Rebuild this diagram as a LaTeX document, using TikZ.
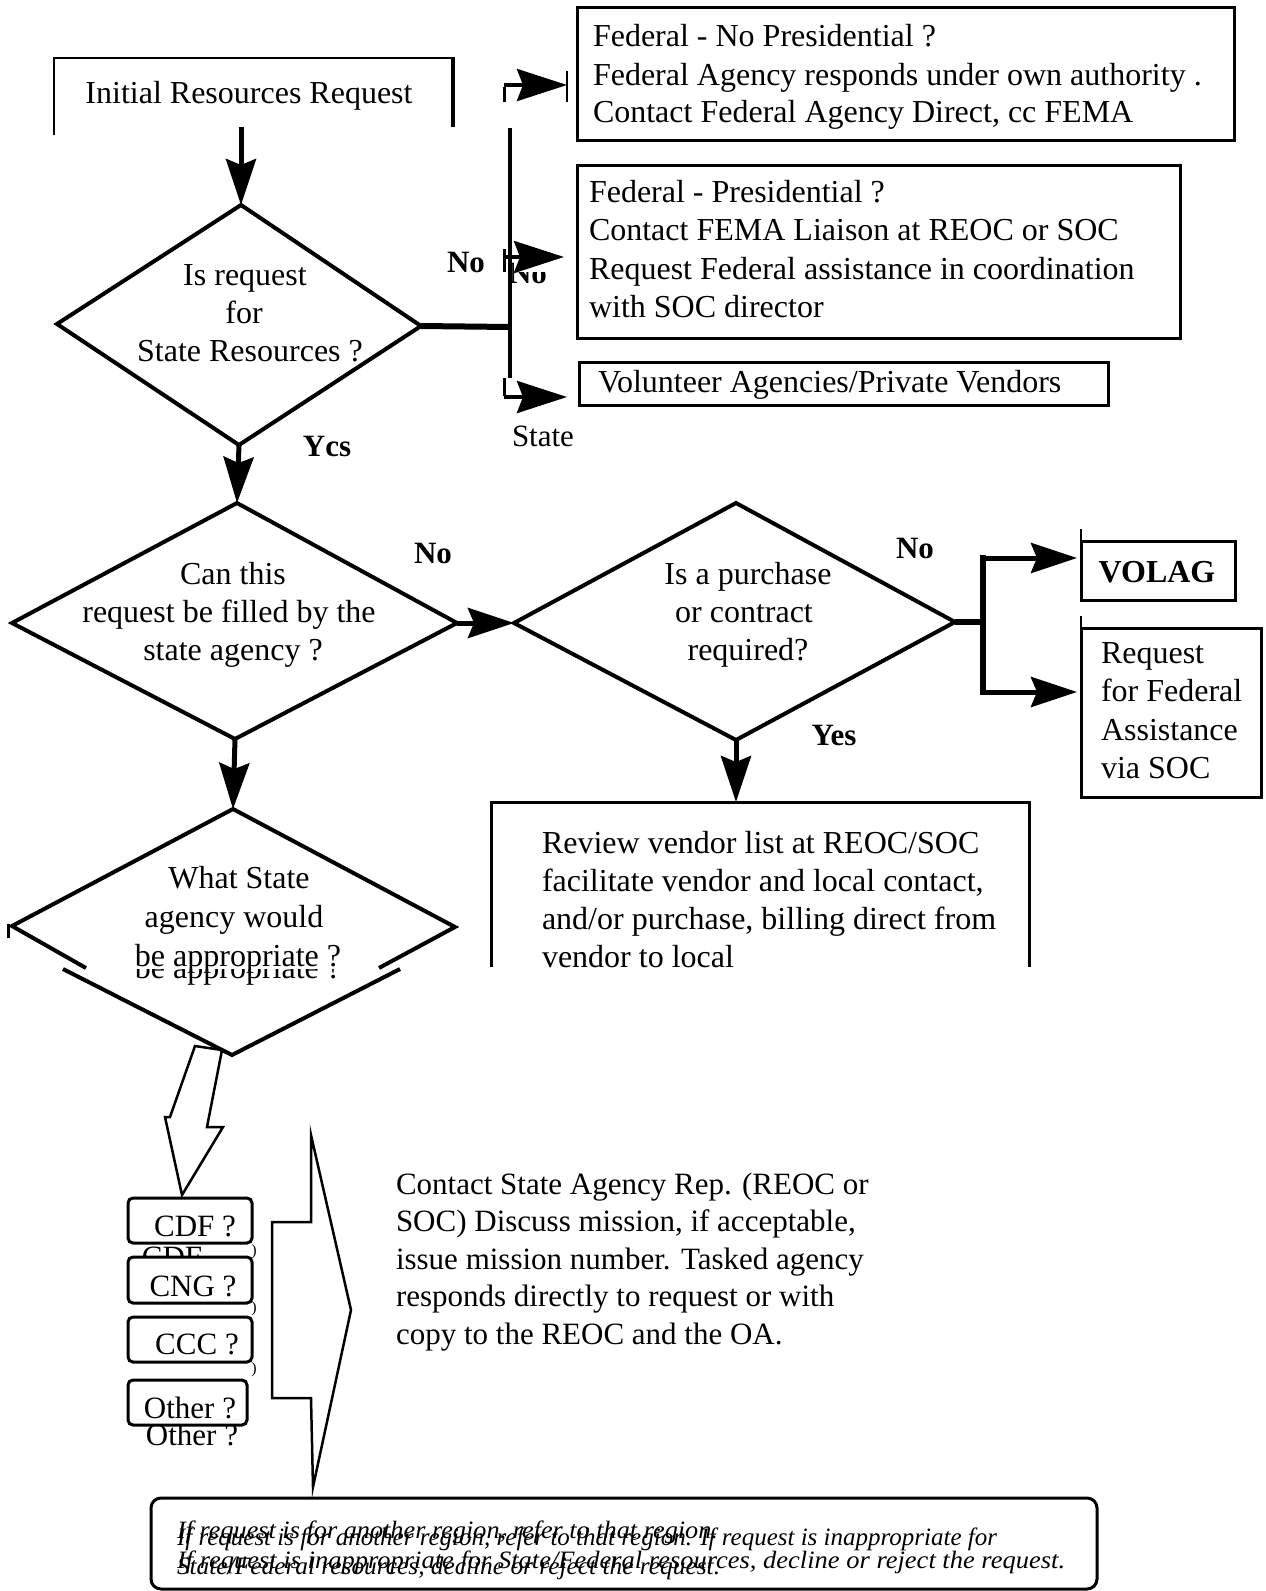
\documentclass[tikz,border=0pt]{standalone}
\usepackage{fontspec}
\setmainfont{Liberation Serif}
\usetikzlibrary{arrows.meta}
\newcommand\fsz[1]{\fontsize{#1}{#1}\selectfont}
\begin{document}
\begin{tikzpicture}[x=1pt,y=-1pt,
  every node/.style={inner sep=0pt, outer sep=0pt},
  txt/.style={font=\fsz{32}, anchor=base west},
  ctxt/.style={font=\fsz{32}, anchor=base},
  stxt/.style={font=\fsz{31}, anchor=base west},
  btxt/.style={font=\fsz{31}, anchor=base},
  lbl/.style={font=\fsz{31}\bfseries, anchor=base},
  itx/.style={font=\fsz{25}\itshape, anchor=base west},
  boxln/.style={draw, line width=3pt, anchor=north west},
  dialn/.style={line width=4pt, line join=miter},
  thickln/.style={line width=6pt},
  thinln/.style={line width=3pt},
  arr/.style={line width=5pt, -{Stealth[length=46pt,width=30pt,inset=6pt]}},
  sarr/.style={line width=4pt, -{Stealth[length=50pt,width=32pt,inset=6pt]}},
  qbox/.style={draw, line width=3pt, rounded corners=5pt, fill=white, anchor=north west},
]
\useasboundingbox[fill=white] (0,0) rectangle (1266,1591);

% ---------- coordinates of diamonds ----------
\coordinate (d1t) at (241,205); \coordinate (d1l) at (57,324);
\coordinate (d1r) at (421,326); \coordinate (d1b) at (239,445);
\coordinate (d2t) at (237,503); \coordinate (d2l) at (12,623);
\coordinate (d2r) at (457,623); \coordinate (d2b) at (235,739);
\coordinate (d3t) at (736,503); \coordinate (d3l) at (514,623);
\coordinate (d3r) at (955,622); \coordinate (d3b) at (736,740);
\coordinate (d4t) at (233,809); \coordinate (d4l) at (12,926);
\coordinate (d4r) at (455,927); \coordinate (d4b) at (232,1055);
\coordinate (d4ul) at (86,968); \coordinate (d4ur) at (379,968);
\coordinate (d4ll) at (63,969); \coordinate (d4lr) at (400,969);

% ---------- Initial box (open at bottom) ----------
\draw[line width=2pt] (54,135) -- (54,58) -- (453,58);
\draw[line width=4pt] (453,57) -- (453,127);
\node[ctxt] (init) at (249,103) {Initial Resources Request};
\coordinate (initb) at (241,127);
\draw[arr] (initb) -- (d1t);

% ---------- Diamond 1 ----------
\draw[dialn] (d1t) -- (d1r) -- (d1b) -- (d1l) -- cycle;
\node[ctxt] (d1a) at (245,285) {Is request};
\node[ctxt] (d1bb) at (244,323) {for};
\node[ctxt] (d1c) at (250,361) {State Resources ?};

% hidden No (partly masked)
\node[lbl] (nohid) at (528,283) {No};
\fill[white] (514,240) rectangle (550,272);

% trunk
\coordinate (trm) at (510,327);
\coordinate (trtop) at (510,128);
\coordinate (trbot) at (510,378);
\draw[thickln] (d1r) -- (trm);
\draw[line width=4pt] (trtop) -- (trbot);

% arrow 1
\coordinate (a1c) at (504,102); \coordinate (a1s) at (504,85); \coordinate (a1e) at (567,85);
\draw[thinln] (a1c) -- ([yshift=-1.5pt]a1s);
\draw[sarr] (a1s) -- (a1e);
\coordinate (tk1) at (567,71); \coordinate (tk2) at (567,102);
\draw[line width=2pt] (tk1) -- (tk2);
% arrow 2
\coordinate (a2c) at (504,249); \coordinate (a2d) at (504,272);
\coordinate (a2s) at (504,257); \coordinate (a2e) at (564,257);
\draw[thinln] (a2c) -- (a2d);
\draw[sarr] (a2s) -- (a2e);
% arrow 3
\coordinate (a3c) at (504,378); \coordinate (a3s) at (504,397); \coordinate (a3e) at (567,397);
\draw[thinln] (a3c) -- ([yshift=1.5pt]a3s);
\draw[sarr] (a3s) -- (a3e);

\node[lbl] (no1) at (466,272) {No};
\node[btxt] (state) at (543,446) {State};
\node[lbl] (ycs) at (327,456) {Ycs};

% ---------- right boxes ----------
\node[boxln, minimum width=657pt, minimum height=133pt] (fed1) at (577,7) {};
\node[txt] (f1a) at (593,46) {Federal - No Presidential ?};
\node[txt] (f1b) at (593,85) {Federal Agency responds under own authority .};
\node[txt] (f1c) at (593,122) {Contact Federal Agency Direct, cc FEMA};

\node[boxln, minimum width=603pt, minimum height=173pt] (fed2) at (577,165) {};
\node[txt] (f2a) at (589,202) {Federal - Presidential ?};
\node[txt] (f2b) at (589,240) {Contact FEMA Liaison at REOC or SOC};
\node[txt] (f2c) at (589,279) {Request Federal assistance in coordination};
\node[txt] (f2d) at (589,317) {with SOC director};

\node[boxln, minimum width=529pt, minimum height=43pt] (vol) at (579,362) {};
\node[txt] (vola) at (598,392) {Volunteer Agencies/Private Vendors};

% ---------- Diamond 2 ----------
\draw[arr] (d1b) -- (d2t);
\draw[dialn] (d2t) -- (d2r) -- (d2b) -- (d2l) -- cycle;
\node[ctxt] (d2a) at (233,584) {Can this};
\node[ctxt] (d2bb) at (229,622) {request be filled by the};
\node[ctxt] (d2c) at (233,660) {state agency ?};
\node[lbl] (no2) at (433,563) {No};
\draw[arr] (d2r) -- (d3l);

% ---------- Diamond 3 ----------
\draw[dialn] (d3t) -- (d3r) -- (d3b) -- (d3l) -- cycle;
\node[ctxt] (d3a) at (748,584) {Is a purchase};
\node[ctxt] (d3bb) at (744,622) {or contract};
\node[ctxt] (d3c) at (748,660) {required?};
\node[lbl] (no3) at (915,558) {No};
\node[lbl] (yes3) at (834,745) {Yes};

\coordinate (vm) at (983,622); \coordinate (vt) at (983,555); \coordinate (vb) at (983,695);
\coordinate (vts) at (983,558); \coordinate (vbs) at (983,692);
\coordinate (volagin) at (1077,558); \coordinate (reqin) at (1077,692);
\draw[thickln] (d3r) -- (vm);
\draw[thickln] (vt) -- (vb);
\draw[arr] (vts) -- (volagin);
\draw[arr] (vbs) -- (reqin);

\node[boxln, minimum width=154pt, minimum height=59pt] (volag) at (1081,541) {};
\draw[line width=1.5pt] (1081,529) -- (volag.north west);
\node[font=\fsz{32}\bfseries, anchor=base] (volagt) at (1157,582) {VOLAG};

\node[boxln, minimum width=180pt, minimum height=169pt] (reqf) at (1081,628) {};
\draw[line width=1.5pt] (1081,616) -- (reqf.north west);
\node[txt] (rq1) at (1101,663) {Request};
\node[txt] (rq2) at (1101,701) {for Federal};
\node[txt] (rq3) at (1101,740) {Assistance};
\node[txt] (rq4) at (1101,778) {via SOC};

% ---------- Review box (open bottom) ----------
\coordinate (revtop) at (736,802);
\coordinate (rv1) at (491,967); \coordinate (rv2) at (491,802);
\coordinate (rv3) at (1029,802); \coordinate (rv4) at (1029,967);
\draw[line width=3pt] (rv1) -- (rv2) -- (rv3) -- (rv4);
\draw[arr] (d3b) -- (revtop);
\node[txt] (rv1t) at (542,853) {Review vendor list at REOC/SOC};
\node[txt] (rv2t) at (542,891) {facilitate vendor and local contact,};
\node[txt] (rv3t) at (542,929) {and/or purchase, billing direct from};
\node[txt] (rv4t) at (542,967) {vendor to local};

% ---------- slanted hollow arrow ----------
\draw[line width=2.5pt, line join=miter] (195,1046) -- (170,1117) -- (165,1117) -- (182,1195) -- (223,1127) -- (207,1127) -- (222,1050) -- cycle;

% ---------- Diamond 4 ----------
\draw[arr] (d2b) -- (d4t);
\draw[dialn] (d4ul) -- (d4l) -- (d4t) -- (d4r) -- (d4ur);
\draw[dialn] (d4ll) -- (d4b) -- (d4lr);
\coordinate (tka) at (8,924); \coordinate (tkb) at (8,938);
\draw[line width=3pt] (tka) -- (tkb);
\node[ctxt] (d4a) at (239,888) {What State};
\node[ctxt] (d4bb) at (234,927) {agency would};
\node[ctxt] (d4c) at (238,966) {be appropriate ?};
\begin{scope}
\clip (0,969) rectangle (470,995);
\node[ctxt] (d4dup) at (238,978) {be appropriate ?};
\end{scope}

% ---------- agency boxes ----------
\node[btxt] (cdfdup) at (172,1267) {CDF};
\node[btxt] (othdup) at (192,1445) {Other ?};
\node[font=\fsz{16}] (pm1) at (254,1252) {)};
\node[font=\fsz{16}] (pm2) at (254,1309) {)};
\node[font=\fsz{16}] (pm3) at (254,1370) {)};
\node[qbox, minimum width=124pt, minimum height=45pt] (cdf) at (128,1198) {};
\node[btxt] (cdft) at (195,1236) {CDF ?};
\node[qbox, minimum width=124pt, minimum height=46pt] (cng) at (128,1257) {};
\node[btxt] (cngt) at (193,1296) {CNG ?};
\node[qbox, minimum width=124pt, minimum height=45pt] (ccc) at (128,1317) {};
\node[btxt] (ccct) at (197,1354) {CCC ?};
\node[qbox, minimum width=119pt, minimum height=45pt] (oth) at (128,1380) {};
\node[btxt] (otht) at (190,1418) {Other ?};

% ---------- big right block arrow ----------
\draw[line width=2.5pt, line join=miter] (272,1222) -- (311,1222) -- (311,1135) -- (351,1310) -- (313,1487) -- (311,1398) -- (272,1398) -- cycle;

\node[stxt] (c1) at (396,1194) {Contact State Agency Rep. (REOC or};
\node[stxt] (c2) at (396,1231) {SOC) Discuss mission, if acceptable,};
\node[stxt] (c3) at (396,1269) {issue mission number. Tasked agency};
\node[stxt] (c4) at (396,1306) {responds directly to request or with};
\node[stxt] (c5) at (396,1344) {copy to the REOC and the OA.};

% ---------- bottom note ----------
\node[draw, line width=3pt, rounded corners=10pt, minimum width=946pt, minimum height=91pt, anchor=north west] (note) at (151,1498) {};
\node[itx] (na1) at (177,1538) {\resizebox{541pt}{\height}{If request is for another region, refer to that region.}};
\node[itx] (nb1) at (177,1545) {\resizebox{820pt}{\height}{If request is for another region, refer to that region. If request is inappropriate for}};
\node[itx] (na2) at (177,1568) {\resizebox{888pt}{\height}{If request is inappropriate for State/Federal resources, decline or reject the request.}};
\node[itx] (nb2) at (177,1574) {\resizebox{543pt}{\height}{State/Federal resources, decline or reject the request.}};
\end{tikzpicture}
\end{document}
